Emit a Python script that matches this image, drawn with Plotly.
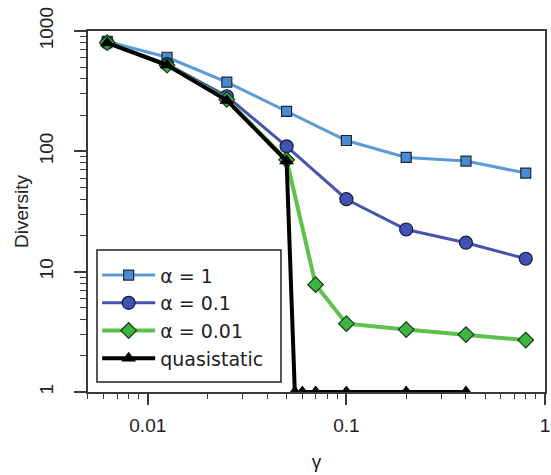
import plotly.graph_objects as go

# gamma values
gamma = [0.00625, 0.0125, 0.025, 0.05, 0.1, 0.2, 0.4, 0.8]
gamma_green = [0.00625, 0.0125, 0.025, 0.05, 0.07, 0.1, 0.2, 0.4, 0.8]
gamma_quasi = [0.00625, 0.0125, 0.025, 0.05, 0.055, 0.06, 0.07, 0.1, 0.2, 0.4]

# diversity values
div_a1 = [820, 605, 376, 215, 123, 89, 83, 66]
div_a01 = [800, 530, 287, 110, 40, 22.4, 17.4, 12.8]
div_a001 = [800, 520, 270, 85, 7.8, 3.7, 3.3, 3.0, 2.7]
div_quasi = [795, 521, 265, 83, 1, 1, 1, 1, 1, 1]

FONT = "Liberation Sans, Arial, sans-serif"
AXIS = "#3a3a3a"

fig = go.Figure()
fig.add_trace(go.Scatter(
    x=gamma, y=div_a1, mode="lines+markers", name="\u03b1 = 1",
    line=dict(color="#5b9ad8", width=3),
    marker=dict(symbol="square", size=10, color="#4a8ad0",
                line=dict(color="#1a2a3a", width=1.2))))
fig.add_trace(go.Scatter(
    x=gamma, y=div_a01, mode="lines+markers", name="\u03b1 = 0.1",
    line=dict(color="#4654b0", width=3),
    marker=dict(symbol="circle", size=13, color="#4252b4",
                line=dict(color="#141a3a", width=1.2))))
fig.add_trace(go.Scatter(
    x=gamma_green, y=div_a001, mode="lines+markers", name="\u03b1 = 0.01",
    line=dict(color="#5cc24a", width=4),
    marker=dict(symbol="diamond", size=12, color="#3fb342",
                line=dict(color="#143a14", width=1.2))))
fig.add_trace(go.Scatter(
    x=gamma_quasi, y=div_quasi, mode="lines+markers", name="quasistatic",
    line=dict(color="black", width=4),
    marker=dict(symbol="triangle-up", size=13, color="black")))

minor_y = [m * 10 ** e for e in range(0, 3) for m in range(2, 10)]
minor_x = [m * 10 ** e for e in range(-3, 0) for m in range(2, 10)]

fig.update_layout(
    width=551, height=475,
    margin=dict(l=88, r=6, t=31, b=83),
    plot_bgcolor="white", paper_bgcolor="white",
    font=dict(family=FONT, size=19, color="#222"),
    showlegend=True,
    legend=dict(x=0.02, y=0.376, xanchor="left", yanchor="top",
                borderwidth=0, bgcolor="rgba(0,0,0,0)",
                font=dict(size=19, family="DejaVu Sans", color="#222"),
                itemwidth=53, tracegroupgap=0),
    # legend frame
    shapes=[dict(type="rect", xref="paper", yref="paper",
                 x0=0.0197, x1=0.4223, y0=0.0277, y1=0.3934,
                 line=dict(color="#222", width=1.5), fillcolor="white",
                 layer="above")],
)
fig.update_xaxes(
    type="log", range=[-2.301, 0], automargin=False,
    tickvals=[0.01, 0.1, 1], ticktext=["0.01", "0.1", "1"],
    ticklabeloverflow="allow",
    ticks="outside", ticklen=11, tickwidth=1.5, tickcolor=AXIS,
    ticklabelstandoff=4,
    minor=dict(tickvals=minor_x, ticks="outside", ticklen=5, tickwidth=1.2, tickcolor=AXIS),
    showline=True, linecolor=AXIS, linewidth=2, mirror=True,
    showgrid=False, zeroline=False,
    title=dict(text="\u03b3", font=dict(size=19), standoff=20),
)
fig.update_yaxes(
    type="log", range=[0, 3], automargin=False,
    tickvals=[1, 10, 100, 1000], ticktext=["1", "10", "100", "1000"],
    tickangle=-90, ticklabelstandoff=13,
    ticks="outside", ticklen=12, tickwidth=1.5, tickcolor=AXIS,
    minor=dict(tickvals=minor_y, ticks="outside", ticklen=6, tickwidth=1.2, tickcolor=AXIS),
    showline=True, linecolor=AXIS, linewidth=2, mirror=True,
    showgrid=False, zeroline=False,
    title=dict(text="Diversity", font=dict(size=19), standoff=3),
)

# drop the default page margin so the figure fills the window exactly
fig.write_html("out.html", config={"displayModeBar": False},
               post_script="document.body.style.margin='0';document.body.style.overflow='hidden';")
